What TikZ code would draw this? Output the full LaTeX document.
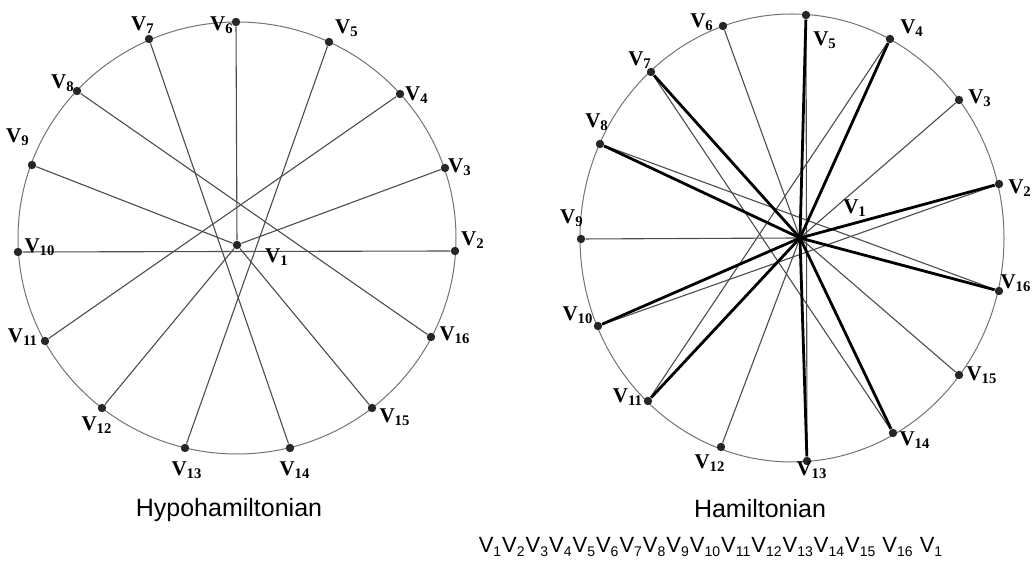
\documentclass[tikz,border=0pt]{standalone}
\usepackage{fontspec}
\setmainfont{Liberation Serif}
\newfontfamily\capfont{Liberation Sans}
\newcommand{\vtx}[1]{V\textsubscript{#1}}
\newcommand{\sqv}[1]{V\textsubscript{\fontsize{7}{8}\selectfont #1}}

\begin{document}
\begin{tikzpicture}[
  x=0.5pt, y=0.5pt,
  rim/.style={draw=black!55, line width=0.5pt},
  chord/.style={draw=black!70, line width=0.55pt},
  spoke/.style={draw=black, line width=1.4pt},
  dot/.style={circle, fill=black!85,
    inner sep=0pt, minimum size=4.2pt},
  vlab/.style={inner sep=0pt,
    font=\fontsize{10.5}{12}\selectfont\bfseries},
  caption/.style={inner sep=0pt,
    font=\capfont\fontsize{12.5}{15}\selectfont}
]
\useasboundingbox (0,0) rectangle (1033,565);

\draw[rim] (237,327) ellipse[x radius=219, y radius=216];
\draw[rim] (792,327) ellipse[x radius=212, y radius=224];

\node[dot] (L1) at (237,320) {};
\foreach \n/\x/\y in {2/455/314,3/445/397,4/400/471,5/329/523,
  6/236/543,7/149/526,8/77/474,9/32/400,10/18/313,11/45/224,
  12/102/157,13/185/117,14/290/117,15/372/157,16/431/228}
  \node[dot] (L\n) at (\x,\y) {};

\coordinate (R1) at (800,327);
\foreach \n/\x/\y in {2/999/381,3/959/465,4/890/526,5/806/550,
  6/723/539,7/651/493,8/600/421,9/581/326,10/598/239,11/648/164,
  12/721/118,13/807/104,14/893/132,15/959/190,16/999/274}
  \node[dot] (R\n) at (\x,\y) {};

\foreach \a/\b in {1/3,1/6,1/9,1/12,1/15,2/10,4/11,5/13,7/14,8/16}{
  \draw[chord] (L\a) -- (L\b);
  \draw[chord] (R\a) -- (R\b);
}
\foreach \b in {2,4,5,7,8,10,11,13,14,16}
  \draw[spoke] (R1) -- (R\b);

\foreach \n/\x/\y in {1/277/308,2/473/325,3/460/398,4/417/470,
  5/347/537,6/222/540,7/143/540,8/63/482,9/18/428,10/40/318,
  11/23/228,12/97/140,13/187/95,14/295/95,15/395/148,16/455/230}
  \node[vlab] (tL\n) at (\x,\y) {\vtx{\n}};

\foreach \n/\x/\y in {1/855/357,2/1020/377,3/980/467,4/912/537,
  5/825/525,6/702/543,7/640/505,8/597/443,9/572/347,10/578/250,
  11/628/168,12/710/102,13/812/95,14/915/125,15/982/190,16/1016/282}
  \node[vlab] (tR\n) at (\x,\y) {\vtx{\n}};

\node[caption] (capL) at (229,55) {Hypohamiltonian};
\node[caption] (capR) at (760,56) {Hamiltonian};
\node[caption, font=\capfont\fontsize{11}{14}\selectfont] (cycle)
  at (711,18) {\sqv{1}\sqv{2}\sqv{3}\sqv{4}\sqv{5}\sqv{6}\sqv{7}\sqv{8}%
  \sqv{9}\sqv{10}\sqv{11}\sqv{12}\sqv{13}\sqv{14}\sqv{15} \sqv{16} \sqv{1}};
\end{tikzpicture}
\end{document}
